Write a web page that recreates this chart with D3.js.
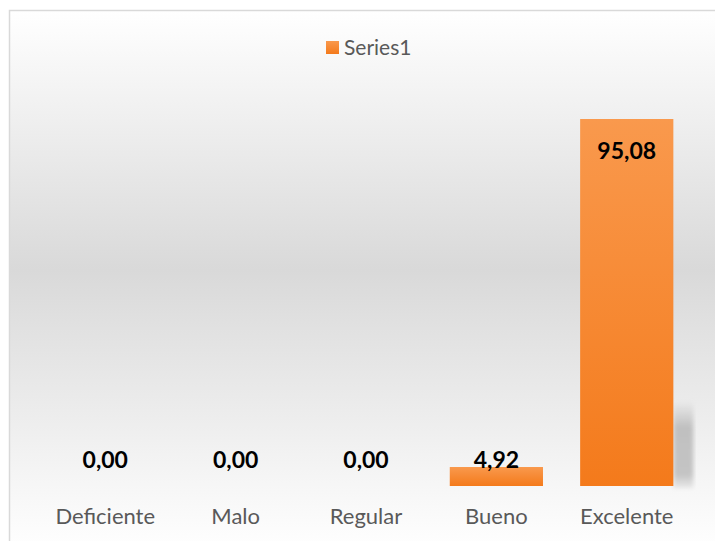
<!DOCTYPE html>
<html><head><meta charset="utf-8">
<script src="https://cdn.jsdelivr.net/npm/d3@7"></script>
<style>body{margin:0;background:#fff}svg{display:block}</style>
</head><body><svg id="c" width="715" height="541"></svg>
<script>
const categories = ["Deficiente","Malo","Regular","Bueno","Excelente"];
const values = [0, 0, 0, 4.92, 95.08];
const seriesName = "Series1";
const fmt = v => v.toFixed(2).replace(".", ",");
const FONT = "Lato, 'Open Sans', sans-serif";

const svg = d3.select("#c");
const defs = svg.append("defs");
const bg = defs.append("linearGradient").attr("id","bg").attr("x1",0).attr("y1",0).attr("x2",0).attr("y2",1);
bg.append("stop").attr("offset","0%").attr("stop-color","#ffffff");
bg.append("stop").attr("offset","48%").attr("stop-color","#d9d9d9");
bg.append("stop").attr("offset","100%").attr("stop-color","#ffffff");
const bar = defs.append("linearGradient").attr("id","bar").attr("x1",0).attr("y1",0).attr("x2",0).attr("y2",1);
bar.append("stop").attr("offset","0%").attr("stop-color","#f9994d");
bar.append("stop").attr("offset","100%").attr("stop-color","#f47a1b");
const sh = defs.append("linearGradient").attr("id","sh").attr("x1",0).attr("y1",0).attr("x2",0).attr("y2",1);
sh.append("stop").attr("offset","0%").attr("stop-color","#c0c0c0").attr("stop-opacity",0);
sh.append("stop").attr("offset","30%").attr("stop-color","#c0c0c0").attr("stop-opacity",1);
sh.append("stop").attr("offset","85%").attr("stop-color","#c4c4c4").attr("stop-opacity",1);
sh.append("stop").attr("offset","100%").attr("stop-color","#d8d8d8").attr("stop-opacity",0.5);
defs.append("filter").attr("id","blur").append("feGaussianBlur").attr("stdDeviation",2);

svg.append("rect").attr("x",9.5).attr("y",10.5).attr("width",720).attr("height",540)
  .attr("fill","url(#bg)").attr("stroke","#d9d9d9").attr("stroke-width",1.5);

const x = d3.scaleBand().domain(categories).range([40, 692]).paddingInner(0.285).paddingOuter(0.143);
const y = d3.scaleLinear().domain([0, 95.08]).range([486, 119]);

const data = categories.map((c,i)=>({c,v:values[i]}));
const g = svg.append("g");
g.selectAll("rect.sh").data(data.filter(d=>d.v>50)).join("rect").attr("class","sh")
  .attr("x", d=>x(d.c)+x.bandwidth()).attr("width", 20)
  .attr("y", y(22)).attr("height", y(0)-y(22)+2)
  .attr("fill","url(#sh)").attr("filter","url(#blur)");

g.selectAll("rect.b").data(data).join("rect").attr("class","b")
  .attr("x", d=>x(d.c)).attr("width", x.bandwidth())
  .attr("y", d=>y(d.v)).attr("height", d=>y(0)-y(d.v))
  .attr("fill","url(#bar)");

g.selectAll("text.v").data(data).join("text").attr("class","v")
  .attr("x", d=>x(d.c)+x.bandwidth()/2)
  .attr("y", d=> d.v>50 ? y(d.v)+40 : y(0)-18)
  .attr("text-anchor","middle").attr("font-family",FONT)
  .attr("font-weight","bold").attr("font-size",23).attr("fill","#000").text(d=>fmt(d.v));

const xa = svg.append("g").attr("transform","translate(0,486)")
  .call(d3.axisBottom(x).tickSize(0).tickPadding(22));
xa.select(".domain").remove();
xa.selectAll("text").attr("font-family",FONT).attr("font-size",22).attr("fill","#595959");

const lg = svg.append("g");
lg.append("rect").attr("x",326).attr("y",41).attr("width",13).attr("height",13).attr("fill","url(#bar)");
lg.append("text").attr("x",344).attr("y",55).attr("font-family",FONT)
  .attr("font-size",21).attr("fill","#595959").text(seriesName);
</script></body></html>
